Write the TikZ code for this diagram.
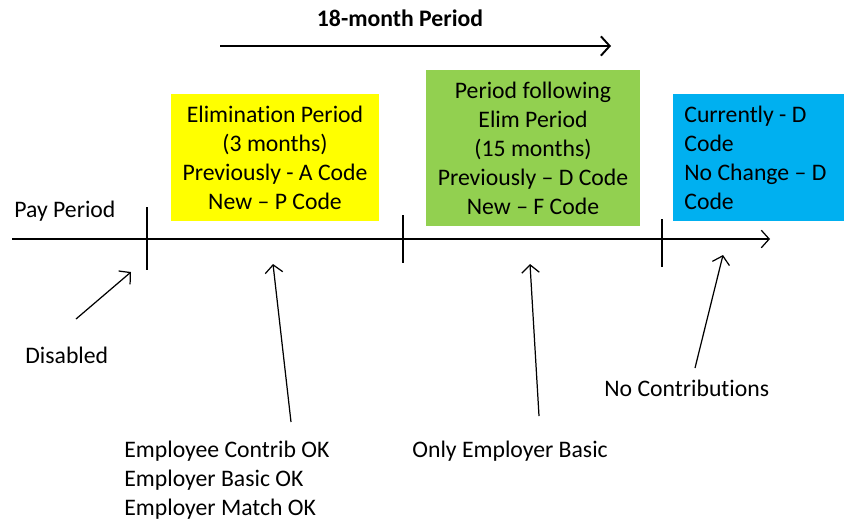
\documentclass[tikz,border=0pt]{standalone}
\usepackage{fontspec}
\setmainfont{Carlito}[Ligatures={TeX,NoCommon}]
\usetikzlibrary{arrows.meta, positioning}

\definecolor{elimyellow}{HTML}{FFFF00}
\definecolor{followgreen}{HTML}{92D050}
\definecolor{currentblue}{HTML}{00B0F0}

\begin{document}
\begin{tikzpicture}[x=0.02cm,y=-0.02cm,
    every node/.style={font=\fontsize{13.5}{16.5}\selectfont, inner sep=0pt},
    pointer/.style={-{Straight Barb[length=4.5pt,width=10pt]}, line width=0.7pt}]

    \useasboundingbox (0,0) rectangle (844,522);

    % heading over the 18 months
    \node[font=\fontsize{13.5}{16.5}\selectfont\bfseries] (title) at (400,18) {18-month Period};
    \coordinate (span0) at (220,46);
    \coordinate (span1) at (611,46);
    \draw[-{Straight Barb[length=5pt,width=11pt]}, line width=1.1pt] (span0) -- (span1);

    % time axis
    \coordinate (axis0) at (12,239);
    \coordinate (axis1) at (770,239);
    \draw[pointer] (axis0) -- (axis1);
    \node[anchor=west] (pay) at (14,211) {Pay Period};

    \foreach \x/\top/\bot in {147/207/270, 403/215/263, 662/219/267}
    \draw[line width=0.7pt] (\x,\top) -- (\x,\bot);

    % coloured periods
    \fill[elimyellow] (171,94) rectangle (379,221);
    \node[align=center] (elim) at (275,157.5)
      {Elimination Period\\(3 months)\\Previously - A Code\\New -- P Code};

    \fill[followgreen] (426,70) rectangle (640,226);
    \node[align=center] (follow) at (533,148)
      {Period following\\Elim Period\\(15 months)\\Previously -- D Code\\New -- F Code};

    \fill[currentblue] (673,94) rectangle (844,221);
    \node[align=left, anchor=west] (current) at (684,157.5)
      {Currently - D\\Code\\No Change -- D\\Code};

    % notes below the axis
    \node[anchor=west] (disabled) at (25,355) {Disabled};
    \node[anchor=west, align=left] (contrib) at (124,480)
      {Employee Contrib OK\\Employer Basic OK\\Employer Match OK};
    \node[anchor=west] (basic) at (412,451) {Only Employer Basic};
    \node[anchor=west] (nocontrib) at (604,388) {No Contributions};

    \coordinate (disabledtail) at (76,319);
    \coordinate (disabledtip) at (131,272);
    \coordinate (contribtail) at (291,422);
    \coordinate (contribtip) at (273,264);
    \coordinate (basictail) at (539,416);
    \coordinate (basictip) at (530,264);
    \coordinate (nocontribtail) at (695,368);
    \coordinate (nocontribtip) at (723,255);

    \draw[pointer] (disabledtail) -- (disabledtip);
    \draw[pointer] (contribtail) -- (contribtip);
    \draw[pointer] (basictail) -- (basictip);
    \draw[pointer] (nocontribtail) -- (nocontribtip);

\end{tikzpicture}
\end{document}
